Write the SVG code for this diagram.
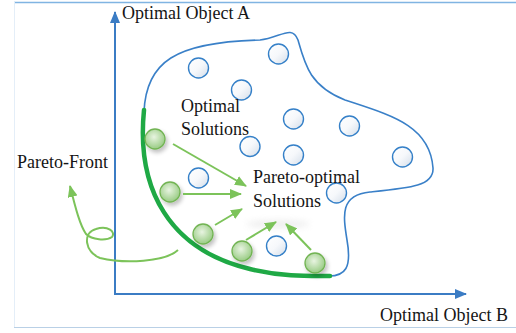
<svg xmlns="http://www.w3.org/2000/svg" width="516" height="333" viewBox="0 0 516 333">
<defs>
<style>
.lbl{font-family:"Liberation Serif","Times New Roman",serif;font-size:18px;fill:#151515}
.ax{stroke:#3b7cc4;stroke-width:2;fill:none}
.blob{stroke:#3a80c8;stroke-width:1.6;fill:none}
.bc{fill:url(#gb);stroke:#3580c8;stroke-width:1.4}
.gc{fill:url(#gg);stroke:#72b453;stroke-width:1.3;filter:url(#sh)}
.ga{stroke:#7cc35a;stroke-width:2;fill:none;marker-end:url(#ah)}
</style>
<linearGradient id="gb" x1="0" y1="0" x2="1" y2="1">
<stop offset="0" stop-color="#ffffff"/><stop offset="0.5" stop-color="#f6f8fb"/><stop offset="1" stop-color="#d3dde9"/>
</linearGradient>
<radialGradient id="gg" cx="0.45" cy="0.4" r="0.65">
<stop offset="0" stop-color="#e8f4e1"/><stop offset="1" stop-color="#92c87c"/>
</radialGradient>
<filter id="sh" x="-50%" y="-50%" width="200%" height="200%">
<feGaussianBlur in="SourceAlpha" stdDeviation="2"/>
<feOffset dx="1.5" dy="2.5" result="b"/>
<feComponentTransfer><feFuncA type="linear" slope="0.25"/></feComponentTransfer>
<feMerge><feMergeNode/><feMergeNode in="SourceGraphic"/></feMerge>
</filter>
<filter id="blur" x="-50%" y="-100%" width="200%" height="300%"><feGaussianBlur stdDeviation="3"/></filter>
<marker id="ah" viewBox="0 0 12 10" refX="11" refY="5" markerWidth="12" markerHeight="10" markerUnits="userSpaceOnUse" orient="auto">
<path d="M0,0 L12,5 L0,10 Z" fill="#7cc35a"/>
</marker>
<marker id="axh" viewBox="0 0 12 10" refX="11" refY="5" markerWidth="12" markerHeight="10" markerUnits="userSpaceOnUse" orient="auto">
<path d="M0,0 L12,5 L0,10 Z" fill="#3b7cc4"/>
</marker>
</defs>
<rect width="516" height="333" fill="#ffffff"/>
<g id="frame">
<line x1="14" y1="2.5" x2="516" y2="2.5" stroke="#80b4e2" stroke-width="1.5"/>
<line x1="14.5" y1="2" x2="14.5" y2="327" stroke="#e4eef8" stroke-width="1"/>
<line x1="14" y1="327.5" x2="516" y2="327.5" stroke="#b9d0e6" stroke-width="1.2"/>
</g>
<g id="axes">
<path class="ax" d="M115,294 L115,12" marker-end="url(#axh)"/>
<path class="ax" d="M114,294 L466,294" marker-end="url(#axh)"/>
</g>
<g id="region">
<path class="blob" d="M144,112 C146,62 175,42 260,40 C280,38 292,24 298,40 C305,65 310,86 345,100 C390,115 430,125 433,168 C434,186 410,188 370,192 C340,195 343,215 347,240 C352,268 345,276 329,276"/>
</g>
<ellipse cx="278" cy="224" rx="32" ry="3.5" fill="#d0d0d0" opacity="0.4" filter="url(#blur)"/>
<g id="blue-solutions">
<circle class="bc" cx="198.5" cy="68" r="10"/>
<circle class="bc" cx="241.5" cy="90" r="10"/>
<circle class="bc" cx="278.5" cy="54" r="10"/>
<circle class="bc" cx="293.5" cy="119" r="10"/>
<circle class="bc" cx="349.5" cy="126" r="10"/>
<circle class="bc" cx="250" cy="146.5" r="10"/>
<circle class="bc" cx="293.5" cy="155" r="10"/>
<circle class="bc" cx="402.5" cy="157" r="10"/>
<circle class="bc" cx="198.5" cy="178" r="10"/>
<circle class="bc" cx="336.5" cy="193" r="10"/>
<circle class="bc" cx="276.5" cy="246" r="10"/>
</g>
<g id="pareto-front-curve">
<path d="M144,110 C136,190 170,250 250,269 C283,277 310,276 330,276" stroke="#1fa945" stroke-width="4.5" fill="none" stroke-linecap="round"/>
</g>
<g id="green-solutions">
<circle class="gc" cx="155" cy="139" r="10"/>
<circle class="gc" cx="170" cy="192" r="10"/>
<circle class="gc" cx="203" cy="234" r="10"/>
<circle class="gc" cx="242" cy="251" r="10"/>
<circle class="gc" cx="315" cy="263" r="10"/>
</g>
<g id="connectors">
<path class="ga" d="M173,144 L246,186"/>
<path class="ga" d="M183,194 L241,194"/>
<path class="ga" d="M215,225 L242,209"/>
<path class="ga" d="M246,240 L276,222"/>
<path class="ga" d="M311,250 L286,224"/>
<path class="ga" d="M178,250 C165,262 125,264 100,258 C85,252 82,233 96,229 C108,225 116,232 112,237 C106,241 92,240 86,234 C80,225 76,210 70,186"/>
</g>
<g id="labels">
<text class="lbl" x="122" y="19">Optimal Object A</text>
<text class="lbl" x="380" y="321">Optimal Object B</text>
<text class="lbl" x="17" y="168">Pareto-Front</text>
<text class="lbl" x="181" y="112">Optimal</text>
<text class="lbl" x="181" y="135">Solutions</text>
<text class="lbl" x="253" y="183">Pareto-optimal</text>
<text class="lbl" x="253" y="207">Solutions</text>
</g>
</svg>
